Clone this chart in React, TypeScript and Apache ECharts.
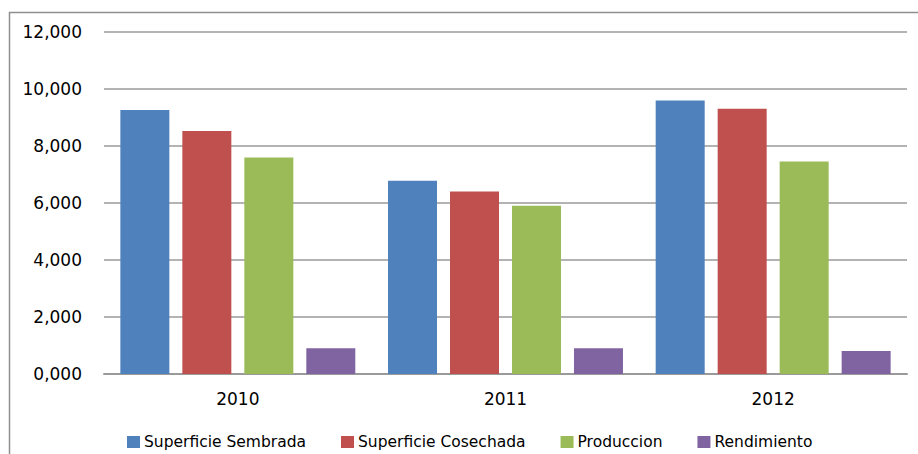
import React, { useEffect, useRef } from "react";
import * as echarts from "echarts";

const years = ["2010", "2011", "2012"];
const superficieSembrada = [9.26, 6.78, 9.6];
const superficieCosechada = [8.53, 6.4, 9.31];
const produccion = [7.6, 5.9, 7.46];
const rendimiento = [0.9, 0.9, 0.81];
const seriesNames = ["Superficie Sembrada", "Superficie Cosechada", "Produccion", "Rendimiento"];
const seriesColors = ["#4F81BD", "#C0504D", "#9BBB59", "#8064A2"];
const seriesData = [superficieSembrada, superficieCosechada, produccion, rendimiento];

export default function App() {
  const ref = useRef<HTMLDivElement>(null);
  useEffect(() => {
    if (!ref.current) return;
    const chart = echarts.init(ref.current, null, { renderer: "svg" });
    chart.setOption({
      animation: false,
      backgroundColor: "#ffffff",
      textStyle: { fontFamily: "DejaVu Sans" },
      graphic: [
        {
          type: "rect",
          shape: { x: 9.5, y: 12.5, width: 1200, height: 1000 },
          style: { fill: "none", stroke: "#8f8f8f", lineWidth: 1.5 },
          silent: true,
          z: -1,
        },
      ],
      grid: { left: 104, right: 11, top: 32, bottom: 80, containLabel: false },
      legend: {
        left: 122,
        top: 429,
        itemWidth: 13,
        itemHeight: 12,
        itemGap: 35,
        icon: "rect",
        textStyle: { fontFamily: "DejaVu Sans", fontSize: 15.5, color: "#000", padding: [0, 0, 0, -1] },
        data: seriesNames,
      },
      xAxis: {
        type: "category",
        data: years,
        axisLine: { show: true, lineStyle: { color: "#9a9a9a", width: 2 } },
        axisTick: { show: false },
        axisLabel: { fontFamily: "DejaVu Sans", fontSize: 17, color: "#000", margin: 16 },
      },
      yAxis: {
        type: "value",
        min: 0,
        max: 12,
        interval: 2,
        axisLine: { show: false },
        axisTick: { show: false },
        splitLine: { lineStyle: { color: "#9a9a9a", width: 1.5 } },
        axisLabel: {
          fontFamily: "DejaVu Sans",
          fontSize: 17,
          color: "#000",
          margin: 22,
          formatter: (v: number) => v.toFixed(3).replace(".", ","),
        },
      },
      series: seriesNames.map((name, i) => ({
        name,
        type: "bar",
        data: seriesData[i],
        barWidth: 49,
        barGap: "26.5%",
        itemStyle: { color: seriesColors[i] },
      })),
    });
    return () => chart.dispose();
  }, []);
  return (
    <div
      ref={ref}
      style={{ position: "fixed", left: 0, top: 0, width: 918, height: 454 }}
    />
  );
}
